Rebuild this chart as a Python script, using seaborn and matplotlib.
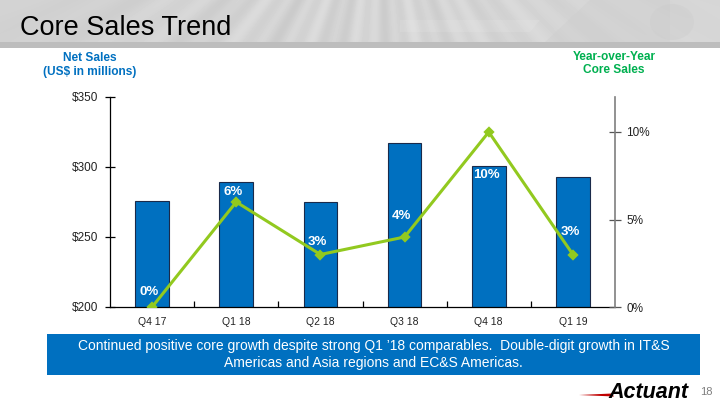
import numpy as np
import matplotlib
matplotlib.use("Agg")
import matplotlib.pyplot as plt
from matplotlib.patches import Polygon, Ellipse
import seaborn as sns

# Data
quarters = ["Q4 17", "Q1 18", "Q2 18", "Q3 18", "Q4 18", "Q1 19"]
net_sales = [276, 289, 275, 317, 301, 293]
core_growth = [0, 6, 3, 4, 10, 3]
growth_labels = ["0%", "6%", "3%", "4%", "10%", "3%"]

blue = "#0070C0"
green = "#92C91F"

sns.set_theme(style="white")
plt.rcParams["font.family"] = ["Liberation Sans", "DejaVu Sans"]

fig = plt.figure(figsize=(7.2, 4.05), dpi=100)

# Header band (light gray with soft streaks)
hdr = fig.add_axes([0, 1 - 48 / 405, 1, 48 / 405])
xx, yy = np.meshgrid(np.linspace(0, 720, 720), np.linspace(0, 48, 48))
ang = np.arctan2(yy + 150, xx - 380)
streaks = 0.02 * np.sin(ang * 60) + 0.015 * np.sin(ang * 23 + 1)
fade = np.exp(-((xx - 330) / 260) ** 2)
img = 0.82 + 0.02 * (xx / 720) + streaks * fade
hdr.imshow(img, cmap="gray", vmin=0, vmax=1, aspect="auto",
           extent=[0, 720, 48, 0], interpolation="bilinear")
hdr.add_patch(Polygon([[400, 20], [540, 20], [530, 32], [400, 32]],
                      closed=True, color="white", alpha=0.10, lw=0))
hdr.add_patch(Polygon([[590, 0], [670, 0], [670, 42], [545, 42]],
                      closed=True, color="#cdcdcd", alpha=0.4, lw=0))
hdr.add_patch(Ellipse((672, 22), 44, 36, color="#cbcbcb", alpha=0.35, lw=0))
hdr.fill_between([0, 720], 42, 48, color="#bdbdbd", lw=0)
hdr.set_xlim(0, 720)
hdr.set_ylim(48, 0)
hdr.axis("off")
fig.text(20 / 720, 1 - 28 / 405, "Core Sales Trend", fontsize=19.5,
         color="black", va="center", ha="left")

# Main chart
ax = fig.add_axes([110 / 720, 1 - 307 / 405, 505 / 720, 210 / 405])
sns.barplot(x=quarters, y=net_sales, ax=ax, color=blue, width=0.4,
            saturation=1, edgecolor="#1a2a4a", linewidth=0.8, zorder=2)
ax.set_ylim(200, 350)
ax.set_yticks([200, 250, 300, 350])
ax.set_yticklabels(["$200", "$250", "$300", "$350"])
ax.set_xlim(-0.5, 5.5)
ax.set_xlabel("")
ax.set_ylabel("")

ax2 = ax.twinx()
sns.pointplot(x=quarters, y=core_growth, ax=ax2, color=green, markers="D",
              markersize=4, linewidth=2.2, zorder=3)
ax2.set_ylim(0, 12)
ax2.set_yticks([0, 5, 10])
ax2.set_yticklabels(["0%", "5%", "10%"])
ax2.set_xlim(-0.5, 5.5)
ax2.set_ylabel("")

# vertical label offsets (points) from each line point
label_dy = [11, 7, 9, 15, -31, 16]
for i, (v, lab) in enumerate(zip(core_growth, growth_labels)):
    ax2.annotate(lab, (i, v), xytext=(-2, label_dy[i]), textcoords="offset points",
                 ha="center", va="center",
                 color="white", fontsize=9.5, fontweight="bold", zorder=4)

for a in (ax, ax2):
    for s in a.spines.values():
        s.set_visible(False)
ax.spines["left"].set_visible(True)
ax.spines["left"].set_color("black")
ax.spines["left"].set_linewidth(0.9)
ax.spines["bottom"].set_visible(True)
ax.spines["bottom"].set_color("black")
ax.spines["bottom"].set_linewidth(0.9)
ax2.spines["right"].set_visible(True)
ax2.spines["right"].set_color("#7f7f7f")
ax2.spines["right"].set_linewidth(1.2)

ax.tick_params(axis="y", left=True, direction="inout", length=7, width=0.9,
               labelsize=8.5, labelcolor="#222222", color="black", pad=5)
ax.tick_params(axis="x", which="major", bottom=False, labelsize=7.5,
               labelcolor="#222222", pad=1)
ax.set_xticks([0.5, 1.5, 2.5, 3.5, 4.5], minor=True)
ax.tick_params(axis="x", which="minor", bottom=True, direction="in",
               length=4, width=0.9, color="black")
ax2.tick_params(axis="y", right=True, direction="inout", length=8, width=0.9,
                labelsize=8.5, labelcolor="#222222", color="#555555", pad=4)

# Axis titles
fig.text(90 / 720, 1 - 58 / 405, "Net Sales", color=blue, fontsize=8.6,
         fontweight="bold", ha="center", va="center")
fig.text(90 / 720, 1 - 72 / 405, "(US$ in millions)", color=blue, fontsize=8.6,
         fontweight="bold", ha="center", va="center")
fig.text(614 / 720, 1 - 57 / 405, "Year-over-Year", color="#00B050", fontsize=8.6,
         fontweight="bold", ha="center", va="center")
fig.text(614 / 720, 1 - 70 / 405, "Core Sales", color="#00B050", fontsize=8.6,
         fontweight="bold", ha="center", va="center")

# Bottom message box
box = fig.add_axes([47 / 720, 1 - 375 / 405, 653 / 720, 41 / 405])
box.set_facecolor(blue)
box.set_xticks([])
box.set_yticks([])
for s in box.spines.values():
    s.set_visible(False)
box.text(0.5, 0.5,
         "Continued positive core growth despite strong Q1 \u201918 comparables.  "
         "Double-digit growth in IT&S\nAmericas and Asia regions and EC&S Americas.",
         color="white", fontsize=10, ha="center", va="center",
         linespacing=1.2, transform=box.transAxes)

# Logo and page number
fig.patches.append(Polygon([[579 / 720, 1 - 395 / 405], [612 / 720, 1 - 393.5 / 405],
                            [614 / 720, 1 - 396.5 / 405]], closed=True,
                           transform=fig.transFigure, color="#c00000", lw=0))
fig.text(608 / 720, 1 - 392 / 405, "Actuant", fontsize=15.5, fontweight="bold",
         fontstyle="italic", color="black", ha="left", va="center")
fig.text(706 / 720, 1 - 392 / 405, "18", fontsize=8, color="#7f7f7f",
         ha="center", va="center")

fig.savefig("out.png", dpi=100)
